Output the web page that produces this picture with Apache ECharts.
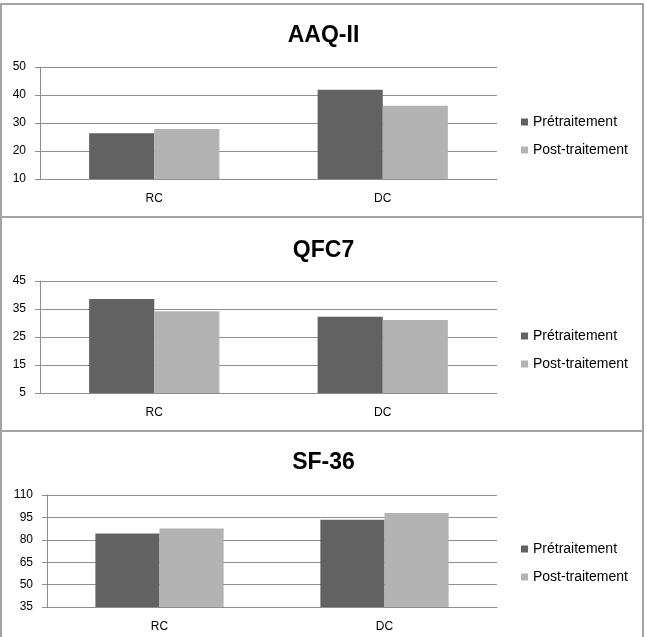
<!DOCTYPE html>
<html>
<head>
<meta charset="utf-8">
<script src="https://cdn.jsdelivr.net/npm/echarts@6/dist/echarts.min.js"></script>
<style>
    html, body { margin: 0; padding: 0; background: #fff; }
    #chart { width: 647px; height: 637px; }
</style>
</head>
<body>
<div id="chart"></div>
<script>
    // values
    var categories = ['RC', 'DC'];
    var seriesNames = ['Prétraitement', 'Post-traitement'];

    var aaqPre = [26.3, 41.9];
    var aaqPost = [27.9, 36.2];

    var qfcPre = [38.6, 32.2];
    var qfcPost = [34.2, 31.1];

    var sfPre = [84.2, 93.5];
    var sfPost = [87.5, 97.9];

    var panels = [
        { title: 'AAQ-II', pre: aaqPre, post: aaqPost, min: 10, max: 50, interval: 10,
          top: 67, left: 40, titleTop: 19, legendTop: 110 },
        { title: 'QFC7', pre: qfcPre, post: qfcPost, min: 5, max: 45, interval: 10,
          top: 281, left: 40, titleTop: 234, legendTop: 324 },
        { title: 'SF-36', pre: sfPre, post: sfPost, min: 35, max: 110, interval: 15,
          top: 495, left: 47, titleTop: 446, legendTop: 537 }
    ];

    var font = 'Liberation Sans';
    var darkColor = '#626262';
    var lightColor = '#b3b3b3';
    var lineColor = '#8e8e8e';

    var titles = [], grids = [], xAxes = [], yAxes = [], series = [], legends = [];

    panels.forEach(function (p, i) {
        titles.push({
            text: p.title,
            left: 'center',
            top: p.titleTop,
            textStyle: { fontFamily: font, fontSize: 23, fontWeight: 'bold', color: '#000' }
        });
        grids.push({ left: p.left, right: 150, top: p.top, height: 112 });
        xAxes.push({
            type: 'category',
            gridIndex: i,
            data: categories,
            axisLine: { lineStyle: { color: lineColor } },
            axisTick: { length: 5, lineStyle: { color: lineColor } },
            axisLabel: { margin: 14, fontFamily: font, fontSize: 12, color: '#000' }
        });
        yAxes.push({
            type: 'value',
            gridIndex: i,
            min: p.min,
            max: p.max,
            interval: p.interval,
            axisLine: { show: true, lineStyle: { color: lineColor } },
            axisTick: { show: true, length: 5, lineStyle: { color: lineColor } },
            axisLabel: { margin: 14, fontFamily: font, fontSize: 12, color: '#000' },
            splitLine: { lineStyle: { color: lineColor } }
        });
        series.push({
            name: seriesNames[0], type: 'bar', xAxisIndex: i, yAxisIndex: i,
            data: p.pre, itemStyle: { color: darkColor },
            barGap: 0, barCategoryGap: '43%'
        });
        series.push({
            name: seriesNames[1], type: 'bar', xAxisIndex: i, yAxisIndex: i,
            data: p.post, itemStyle: { color: lightColor },
            barGap: 0, barCategoryGap: '43%'
        });
        legends.push({
            data: seriesNames,
            orient: 'vertical',
            left: 516,
            top: p.legendTop,
            icon: 'rect',
            itemWidth: 7,
            itemHeight: 7,
            itemGap: 14,
            selectedMode: false,
            textStyle: { fontFamily: font, fontSize: 14, color: '#000' }
        });
    });

    var chart = echarts.init(document.getElementById('chart'));
    chart.setOption({
        animation: false,
        title: titles,
        grid: grids,
        xAxis: xAxes,
        yAxis: yAxes,
        legend: legends,
        series: series,
        graphic: [
            { type: 'rect', shape: { x: 1, y: 4, width: 642, height: 213 },
              style: { fill: null, stroke: '#a3a3a3', lineWidth: 2 } },
            { type: 'rect', shape: { x: 1, y: 217, width: 642, height: 214 },
              style: { fill: null, stroke: '#a3a3a3', lineWidth: 2 } },
            { type: 'rect', shape: { x: 1, y: 431, width: 642, height: 215 },
              style: { fill: null, stroke: '#a3a3a3', lineWidth: 2 } }
        ]
    });
</script>
</body>
</html>
